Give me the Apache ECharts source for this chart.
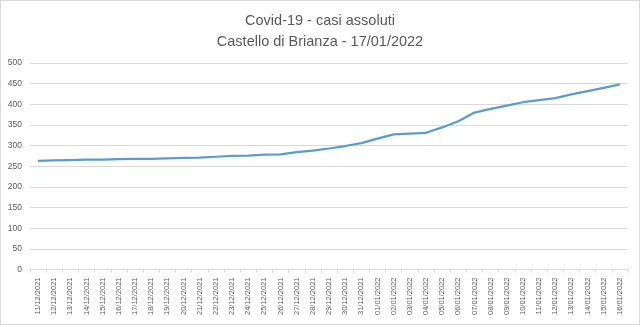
<!DOCTYPE html>
<html>
<head>
<meta charset="utf-8">
<script src="https://cdn.jsdelivr.net/npm/echarts@6/dist/echarts.min.js"></script>
<style>
html,body{margin:0;padding:0;background:#fff;}
#chart{width:640px;height:325px;box-sizing:border-box;border:1px solid #D9D9D9;}
</style>
</head>
<body>
<div id="chart"></div>
<script>
const titleLines = ["Covid-19 - casi assoluti", "Castello di Brianza - 17/01/2022"];
const categories = [
 "11/12/2021","12/12/2021","13/12/2021","14/12/2021","15/12/2021","16/12/2021","17/12/2021",
 "18/12/2021","19/12/2021","20/12/2021","21/12/2021","22/12/2021","23/12/2021","24/12/2021",
 "25/12/2021","26/12/2021","27/12/2021","28/12/2021","29/12/2021","30/12/2021","31/12/2021",
 "01/01/2022","02/01/2022","03/01/2022","04/01/2022","05/01/2022","06/01/2022","07/01/2022",
 "08/01/2022","09/01/2022","10/01/2022","11/01/2022","12/01/2022","13/01/2022","14/01/2022",
 "15/01/2022","16/01/2022"];
const casi = [263,264,265,266,266,267,268,268,269,270,271,273,275,276,278,279,284,288,293,299,306,
 317,327,329,331,344,359,380,389,397,405,410,415,424,432,440,448];

const chart = echarts.init(document.getElementById('chart'), null, {renderer:'canvas'});
chart.setOption({
  animation:false,
  title:{
    text: titleLines.join('\n'),
    left:'center', top:4,
    textStyle:{fontFamily:'Liberation Sans', fontSize:14.5, fontWeight:'normal', color:'#595959', lineHeight:21}
  },
  grid:{left:29, right:11, top:62, bottom:54.5, containLabel:false},
  xAxis:{
    type:'category', data:categories, boundaryGap:true,
    axisLine:{lineStyle:{color:'#D9D9D9'}},
    axisTick:{show:true, length:3, lineStyle:{color:'#D9D9D9'}},
    axisLabel:{rotate:90, interval:0, fontSize:7.5, color:'#595959', fontFamily:'Liberation Sans', margin:8}
  },
  yAxis:{
    type:'value', min:0, max:500, interval:50,
    axisLine:{show:false}, axisTick:{show:false},
    splitLine:{lineStyle:{color:'#D9D9D9', width:1}},
    axisLabel:{fontSize:8.5, color:'#595959', fontFamily:'Liberation Sans', margin:8}
  },
  series:[{
    type:'line', data:casi, symbol:'none', smooth:false,
    lineStyle:{color:'#5B9BD5', width:2.25}
  }]
});
</script>
</body>
</html>
